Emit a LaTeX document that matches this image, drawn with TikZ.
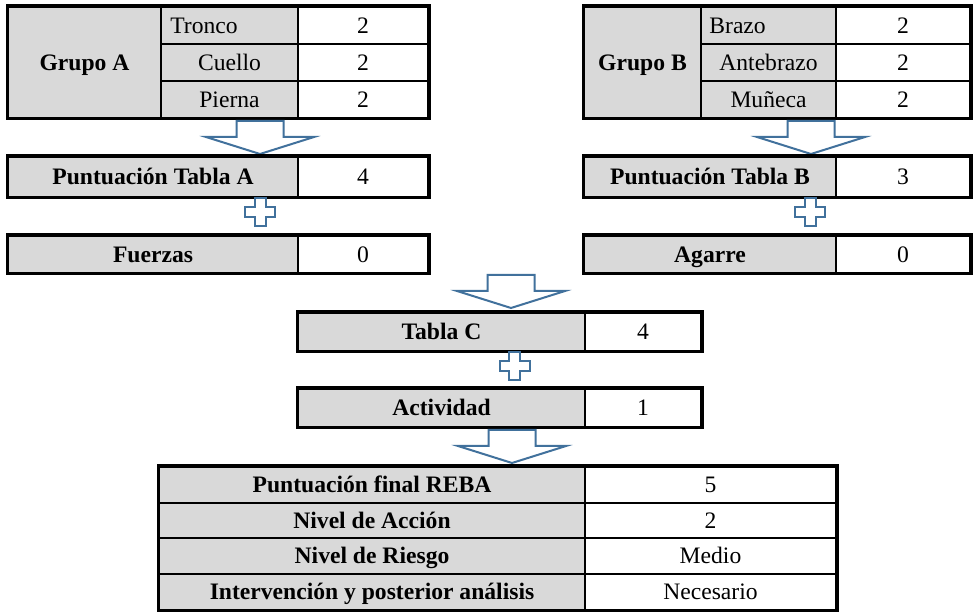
\documentclass[tikz,border=0pt]{standalone}
\usepackage{fontspec}
\setmainfont{Liberation Serif}
\definecolor{gris}{HTML}{D9D9D9}
\definecolor{azul}{HTML}{41719C}
\begin{document}
\begin{tikzpicture}[x=0.5pt, y=-0.5pt,
  texto/.style={inner sep=0pt, text height=7.8pt, text depth=0pt, font=\fontsize{11.8}{14}\selectfont},
  caja/.style n args={4}{at={({(#1+#3)/2},{(#2+#4)/2})}, minimum width={(#3-#1)*0.5pt}, minimum height={(#4-#2)*0.5pt}},
  celda/.style={texto, draw, line width=1pt},
  titulo/.style={celda, fill=gris, font=\fontsize{11.8}{14}\selectfont\bfseries},
  parte/.style={celda, fill=gris},
  valor/.style={celda, fill=white},
  borde/.style={line width=1.5pt},
  flecha/.pic={\filldraw [draw=azul, fill=white, line width=1pt] (-23.5,-33) -- (23.5,-33) -- (23.5,-17) -- (54,-17) -- (0,0) -- (-54,-17) -- (-23.5,-17) -- cycle;},
  suma/.pic={\filldraw [draw=azul, fill=white, line width=1pt] (-5.5,-14) -- (5.5,-14) -- (5.5,-5) -- (15,-5) -- (15,5) -- (5.5,5) -- (5.5,14) -- (-5.5,14) -- (-5.5,5) -- (-15,5) -- (-15,-5) -- (-5.5,-5) -- cycle;}]
\useasboundingbox [fill=white] (0,0) rectangle (974,613);

\node [titulo, caja={8}{7}{161}{118}] (ga) {Grupo A};
\node [parte, caja={161}{7}{298}{44}] (a1) {};
\node [parte, caja={161}{44}{298}{81}] (a2) {Cuello};
\node [parte, caja={161}{81}{298}{118}] (a3) {Pierna};
\node [texto, anchor=west] (ta1) at ([xshift=5pt]a1.west) {Tronco};
\node [valor, caja={298}{7}{428}{44}] (va1) {2};
\node [valor, caja={298}{44}{428}{81}] (va2) {2};
\node [valor, caja={298}{81}{428}{118}] (va3) {2};
\draw [borde] (ga.north west) rectangle (va3.south east);
\pic at (260,154) {flecha};
\node [titulo, caja={8}{157}{298}{197}] (pa) {Puntuación Tabla A};
\node [valor, caja={298}{157}{428}{197}] (vpa) {4};
\draw [borde] (pa.north west) rectangle (vpa.south east);
\pic at (260,212.5) {suma};
\node [titulo, caja={8}{236}{298}{273}] (fz) {Fuerzas};
\node [valor, caja={298}{236}{428}{273}] (vfz) {0};
\draw [borde] (fz.north west) rectangle (vfz.south east);

\node [titulo, caja={584}{7}{701}{118}] (gb) {Grupo B};
\node [parte, caja={701}{7}{836}{44}] (b1) {};
\node [parte, caja={701}{44}{836}{81}] (b2) {Antebrazo};
\node [parte, caja={701}{81}{836}{118}] (b3) {Muñeca};
\node [texto, anchor=west] (tb1) at ([xshift=4.5pt]b1.west) {Brazo};
\node [valor, caja={836}{7}{970}{44}] (vb1) {2};
\node [valor, caja={836}{44}{970}{81}] (vb2) {2};
\node [valor, caja={836}{81}{970}{118}] (vb3) {2};
\draw [borde] (gb.north west) rectangle (vb3.south east);
\pic at (811,154) {flecha};
\node [titulo, caja={584}{157}{836}{197}] (pb) {Puntuación Tabla B};
\node [valor, caja={836}{157}{970}{197}] (vpb) {3};
\draw [borde] (pb.north west) rectangle (vpb.south east);
\pic at (810,212) {suma};
\node [titulo, caja={584}{236}{836}{273}] (ag) {Agarre};
\node [valor, caja={836}{236}{970}{273}] (vag) {0};
\draw [borde] (ag.north west) rectangle (vag.south east);

\pic at (511,308) {flecha};
\node [titulo, caja={298}{313}{585}{351}] (tc) {Tabla C};
\node [valor, caja={585}{313}{701}{351}] (vtc) {4};
\draw [borde] (tc.north west) rectangle (vtc.south east);
\pic at (514.5,366.5) {suma};
\node [titulo, caja={298}{389}{585}{427}] (ac) {Actividad};
\node [valor, caja={585}{389}{701}{427}] (vac) {1};
\draw [borde] (ac.north west) rectangle (vac.south east);
\pic at (512,463) {flecha};

\node [titulo, caja={159}{467}{585}{503}] (f1) {Puntuación final REBA};
\node [titulo, caja={159}{503}{585}{538}] (f2) {Nivel de Acción};
\node [titulo, caja={159}{538}{585}{574}] (f3) {Nivel de Riesgo};
\node [titulo, caja={159}{574}{585}{610}] (f4) {Intervención y posterior análisis};
\node [valor, caja={585}{467}{836}{503}] (vf1) {5};
\node [valor, caja={585}{503}{836}{538}] (vf2) {2};
\node [valor, caja={585}{538}{836}{574}] (vf3) {Medio};
\node [valor, caja={585}{574}{836}{610}] (vf4) {Necesario};
\draw [borde] (f1.north west) rectangle (vf4.south east);
\end{tikzpicture}
\end{document}
